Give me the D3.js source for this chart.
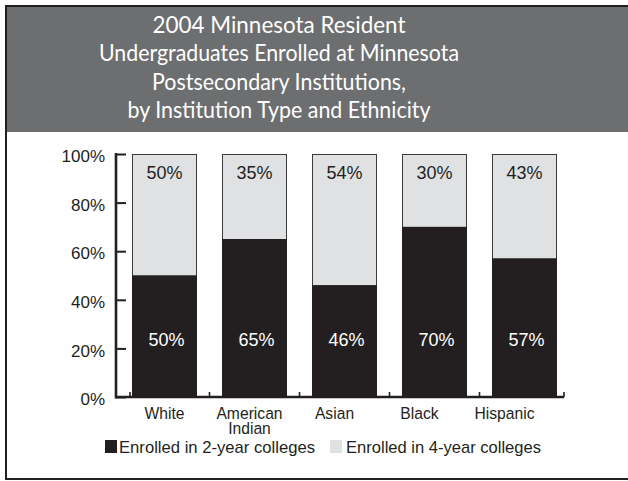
<!DOCTYPE html>
<html>
<head>
<meta charset="utf-8">
<script src="https://cdn.jsdelivr.net/npm/d3@7"></script>
<style>
  body { margin: 0; background: #fff; overflow: hidden; }
  svg { display: block; }
</style>
</head>
<body>
<div id="chart"></div>
<script>
// data
var titleLines = [
  "2004 Minnesota Resident",
  "Undergraduates Enrolled at Minnesota",
  "Postsecondary Institutions,",
  "by Institution Type and Ethnicity"
];
var titleWidths = [253, 360, 254, 303];
var categories = ["White", "American Indian", "Asian", "Black", "Hispanic"];
var twoYear = [50, 65, 46, 70, 57];
var fourYear = [50, 35, 54, 30, 43];
var yTicks = [0, 20, 40, 60, 80, 100];
var seriesNames = ["Enrolled in 2-year colleges", "Enrolled in 4-year colleges"];

var svgWidth = 628;
var svgHeight = 481;
var dark = "#231f20";
var light = "#e0e1e3";
var sans = "'Liberation Sans', Arial, sans-serif";

var svg = d3.select("#chart")
  .append("svg")
  .attr("width", svgWidth)
  .attr("height", svgHeight);

// frame + header band (right side of the frame is cropped off in the original)
svg.append("rect")
  .attr("x", 6).attr("y", 6)
  .attr("width", svgWidth + 10).attr("height", 473)
  .attr("fill", "#fff")
  .attr("stroke", dark)
  .attr("stroke-width", 2);

svg.append("rect")
  .attr("x", 7).attr("y", 7)
  .attr("width", svgWidth).attr("height", 125)
  .attr("fill", "#6d6e70");

svg.append("g")
  .selectAll("text")
  .data(titleLines)
  .enter().append("text")
    .attr("x", 279)
    .attr("y", function(d, i) { return 33 + i * 28.3; })
    .attr("text-anchor", "middle")
    .attr("textLength", function(d, i) { return titleWidths[i]; })
    .attr("lengthAdjust", "spacingAndGlyphs")
    .attr("fill", "#fff")
    .style("font-family", "Lato, 'Open Sans', sans-serif")
    .style("font-size", "24px")
    .text(function(d) { return d; });

// scales
var x = d3.scaleBand()
  .domain(categories)
  .range([119.5, 569.5])
  .paddingInner(25 / 90)
  .paddingOuter(12.5 / 90);

var y = d3.scaleLinear()
  .domain([0, 100])
  .range([397, 154]);

var axisLeftX = 116;
var axisRightX = 564;

var rows = categories.map(function(c, i) {
  return { cat: c, two: twoYear[i], four: fourYear[i] };
});

var bars = svg.append("g");

// 4-year (top, light) segment
bars.selectAll("rect.four")
  .data(rows)
  .enter().append("rect")
    .attr("class", "four")
    .attr("x", function(d) { return x(d.cat) + 0.5; })
    .attr("y", function(d) { return y(100) + 0.5; })
    .attr("width", x.bandwidth() - 1)
    .attr("height", function(d) { return y(d.two) - y(100); })
    .attr("fill", light)
    .attr("stroke", "#3a3a3a")
    .attr("stroke-width", 1);

// 2-year (bottom, dark) segment
bars.selectAll("rect.two")
  .data(rows)
  .enter().append("rect")
    .attr("class", "two")
    .attr("x", function(d) { return x(d.cat); })
    .attr("y", function(d) { return y(d.two); })
    .attr("width", x.bandwidth())
    .attr("height", function(d) { return y(0) - y(d.two); })
    .attr("fill", dark);

// value labels
bars.selectAll("text.four")
  .data(rows)
  .enter().append("text")
    .attr("x", function(d) { return x(d.cat) + x.bandwidth() / 2; })
    .attr("y", y(92.5))
    .attr("dy", "0.35em")
    .attr("text-anchor", "middle")
    .attr("fill", dark)
    .style("font-family", sans)
    .style("font-size", "18px")
    .text(function(d) { return d.four + "%"; });

bars.selectAll("text.two")
  .data(rows)
  .enter().append("text")
    .attr("x", function(d) { return x(d.cat) + x.bandwidth() / 2 + 2; })
    .attr("y", y(23.5))
    .attr("dy", "0.35em")
    .attr("text-anchor", "middle")
    .attr("fill", "#fff")
    .style("font-family", sans)
    .style("font-size", "18px")
    .text(function(d) { return d.two + "%"; });

// y axis
var yAxis = d3.axisRight(y)
  .tickValues(yTicks)
  .tickSize(10)
  .tickFormat(function(d) { return d + "%"; });

var yg = svg.append("g")
  .attr("transform", "translate(" + axisLeftX + ",0)")
  .call(yAxis);
yg.select(".domain").remove();
yg.selectAll(".tick line").attr("stroke", dark).attr("stroke-width", 2);
yg.selectAll(".tick text")
  .attr("x", -11)
  .attr("dy", "0.45em")
  .attr("text-anchor", "end")
  .attr("fill", dark)
  .style("font-family", sans)
  .style("font-size", "17px");
yg.append("line")
  .attr("x1", 0).attr("x2", 0)
  .attr("y1", y(100) - 1).attr("y2", y(0) + 1.5)
  .attr("stroke", dark)
  .attr("stroke-width", 2.6);

// x axis line with small ticks between bars
var xg = svg.append("g");
xg.append("line")
  .attr("x1", axisLeftX).attr("x2", axisRightX)
  .attr("y1", y(0)).attr("y2", y(0))
  .attr("stroke", dark)
  .attr("stroke-width", 2.4);

var tickXs = categories.slice(1).map(function(c) { return x(c) - x.step() * x.paddingInner() / 2; });
tickXs.unshift(x(categories[0]) - 2);
tickXs.push(axisRightX);
xg.selectAll("line.tick")
  .data(tickXs)
  .enter().append("line")
    .attr("class", "tick")
    .attr("x1", function(d) { return d; })
    .attr("x2", function(d) { return d; })
    .attr("y1", y(0))
    .attr("y2", y(0) - 5)
    .attr("stroke", dark)
    .attr("stroke-width", 1.6);

// category labels (sit slightly left of the bars in the original), condensed type
var labelX = d3.scalePoint()
  .domain(categories)
  .range([x(categories[0]) + x.bandwidth() / 2, x(categories[4]) + x.bandwidth() / 2 - 20]);

var catLabels = xg.selectAll("g.cat")
  .data(categories)
  .enter().append("g")
    .attr("class", "cat")
    .attr("transform", function(d) { return "translate(" + labelX(d) + ",419) scale(0.95,1)"; })
  .append("text")
    .attr("text-anchor", "middle")
    .attr("fill", dark)
    .style("font-family", sans)
    .style("font-size", "16.5px");

catLabels.each(function(d) {
  var t = d3.select(this);
  d.split(" ").forEach(function(w, i) {
    t.append("tspan")
      .attr("x", 0)
      .attr("dy", i === 0 ? 0 : 15)
      .text(w);
  });
});

// legend
var legendItems = [
  { name: seriesNames[0], color: dark, x: 105, tx: 14, w: 196 },
  { name: seriesNames[1], color: light, x: 330, tx: 16, w: 195 }
];
var legend = svg.append("g")
  .selectAll("g")
  .data(legendItems)
  .enter().append("g")
    .attr("transform", function(d) { return "translate(" + d.x + ",440)"; });

legend.append("rect")
  .attr("width", 12)
  .attr("height", 13)
  .attr("fill", function(d) { return d.color; });

legend.append("text")
  .attr("x", function(d) { return d.tx; })
  .attr("y", 13)
  .attr("textLength", function(d) { return d.w; })
  .attr("lengthAdjust", "spacingAndGlyphs")
  .attr("fill", dark)
  .style("font-family", sans)
  .style("font-size", "17px")
  .text(function(d) { return d.name; });
</script>
</body>
</html>
